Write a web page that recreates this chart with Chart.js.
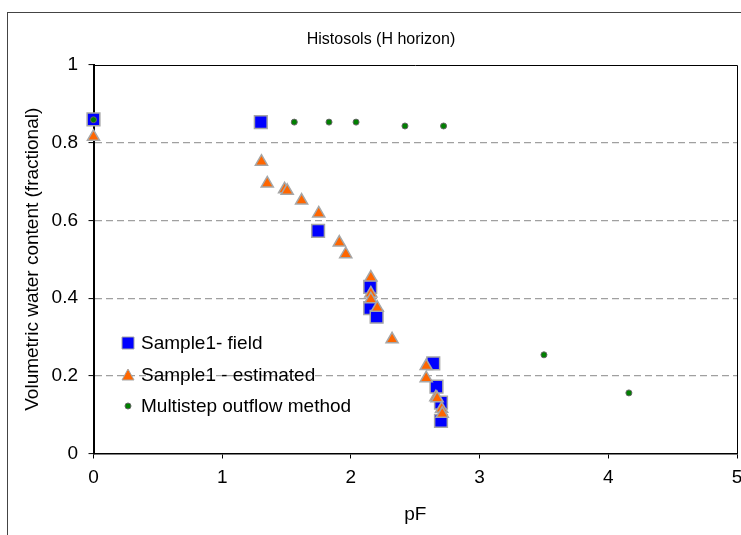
<!DOCTYPE html>
<html>
<head>
<meta charset="utf-8">
<script src="https://cdn.jsdelivr.net/npm/chart.js@4/dist/chart.umd.min.js"></script>
<style>
  html, body { margin: 0; padding: 0; background: #fff; }
  #wrap { width: 741px; height: 535px; }
</style>
</head>
<body>
<div id="wrap"><canvas id="myChart" width="741" height="535"></canvas></div>
<script>
// pF / water content pairs
const fieldPF = [0, 1.30, 1.745, 2.15, 2.15, 2.20, 2.64, 2.665, 2.70, 2.70];
const fieldTheta = [0.86, 0.853, 0.573, 0.429, 0.374, 0.352, 0.232, 0.172, 0.131, 0.084];

const estPF = [0, 1.305, 1.35, 1.485, 1.505, 1.617, 1.75, 1.91, 1.96, 2.155, 2.155, 2.155, 2.205, 2.32, 2.585, 2.585, 2.66, 2.67, 2.705, 2.71];
const estTheta = [0.815, 0.751, 0.695, 0.680, 0.676, 0.651, 0.618, 0.543, 0.513, 0.453, 0.412, 0.397, 0.375, 0.294, 0.225, 0.194, 0.145, 0.142, 0.115, 0.102];

const msoPF = [0, 1.56, 1.83, 2.04, 2.42, 2.72, 3.50, 4.16];
const msoTheta = [0.859, 0.853, 0.853, 0.853, 0.843, 0.843, 0.254, 0.156];

const seriesNames = ["Sample1- field", "Sample1 - estimated", "Multistep outflow method"];
const chartTitle = "Histosols (H horizon)";
const xTitle = "pF";
const yTitle = "Volumetric water content (fractional)";

function toPoints(xs, ys) {
  return xs.map((x, i) => ({ x: x, y: ys[i] }));
}

const FONT = "'Liberation Sans', Arial, sans-serif";

// frame, outer box, title and the legend inside the plot
const decorations = {
  id: 'decorations',
  beforeDraw(chart) {
    const ctx = chart.ctx;
    ctx.save();
    ctx.fillStyle = '#fff';
    ctx.fillRect(0, 0, chart.width, chart.height);
    ctx.strokeStyle = '#444';
    ctx.lineWidth = 1;
    ctx.strokeRect(7.5, 12.5, 800, 600);
    ctx.fillStyle = '#000';
    ctx.font = '16px ' + FONT;
    ctx.textAlign = 'center';
    ctx.textBaseline = 'middle';
    ctx.fillText(chartTitle, 381, 40);
    ctx.restore();
  },
  beforeDatasetsDraw(chart) {
    const { ctx, chartArea: a } = chart;
    ctx.save();
    ctx.strokeStyle = '#000';
    ctx.lineWidth = 1;
    ctx.beginPath();
    ctx.moveTo(a.left, a.top + 0.5);
    ctx.lineTo(a.right + 0.5, a.top + 0.5);
    ctx.lineTo(a.right + 0.5, a.bottom);
    ctx.stroke();
    ctx.restore();
  },
  afterDraw(chart) {
    const ctx = chart.ctx;
    const rows = [343, 375, 406];
    ctx.save();
    chart.data.datasets.forEach((ds, i) => {
      const y = rows[i];
      const x = 128;
      ctx.fillStyle = ds.backgroundColor;
      ctx.strokeStyle = ds.borderColor;
      ctx.lineWidth = 1;
      ctx.beginPath();
      if (ds.pointStyle === 'rect') {
        ctx.rect(x - 6, y - 6, 12, 12);
      } else if (ds.pointStyle === 'triangle') {
        ctx.moveTo(x, y - 6);
        ctx.lineTo(x + 6, y + 5);
        ctx.lineTo(x - 6, y + 5);
        ctx.closePath();
      } else {
        ctx.arc(x, y, 3, 0, Math.PI * 2);
      }
      ctx.fill();
      ctx.stroke();
      ctx.fillStyle = '#000';
      ctx.font = '19px ' + FONT;
      ctx.textAlign = 'left';
      ctx.textBaseline = 'middle';
      ctx.fillText(ds.label, 141, y + 1);
    });
    ctx.restore();
  }
};

function createChart() {
  const ctx = document.getElementById('myChart').getContext('2d');
  return new Chart(ctx, {
    type: 'scatter',
    data: {
      datasets: [
        {
          label: seriesNames[0],
          data: toPoints(fieldPF, fieldTheta),
          pointStyle: 'rect',
          pointRadius: 9,
          backgroundColor: '#0000ff',
          borderColor: '#a6a6a6',
          borderWidth: 1.5,
          order: 3,
          clip: false
        },
        {
          label: seriesNames[1],
          data: toPoints(estPF, estTheta),
          pointStyle: 'triangle',
          pointRadius: 7,
          backgroundColor: '#ff6600',
          borderColor: '#a6a6a6',
          borderWidth: 1.5,
          order: 2,
          clip: false
        },
        {
          label: seriesNames[2],
          data: toPoints(msoPF, msoTheta),
          pointStyle: 'circle',
          pointRadius: 3,
          backgroundColor: '#008000',
          borderColor: '#666666',
          borderWidth: 1,
          order: 1,
          clip: false
        }
      ]
    },
    options: {
      responsive: false,
      animation: false,
      layout: { autoPadding: false, padding: { top: 65, right: 4, left: 0, bottom: 0 } },
      plugins: {
        legend: { display: false },
        tooltip: { enabled: false },
        title: { display: false }
      },
      scales: {
        x: {
          type: 'linear',
          min: 0,
          max: 5,
          afterFit(scale) {
            scale.height = 81.5;
            scale.paddingRight = 0;
            scale.paddingLeft = 0;
          },
          ticks: {
            stepSize: 1,
            color: '#000',
            padding: 8,
            font: { family: FONT, size: 19 }
          },
          grid: {
            drawOnChartArea: false,
            drawTicks: true,
            tickLength: 5,
            tickColor: '#000',
            tickWidth: 1
          },
          border: { color: '#000', width: 1.5 },
          title: {
            display: true,
            text: xTitle,
            color: '#000',
            font: { family: FONT, size: 19 },
            padding: { top: 0, bottom: 8.6 }
          }
        },
        y: {
          type: 'linear',
          min: 0,
          max: 1,
          afterFit(scale) { scale.width = 93.5; },
          ticks: {
            stepSize: 0.2,
            color: '#000',
            padding: 10.5,
            font: { family: FONT, size: 19 },
            callback: (v) => String(+v.toFixed(1))
          },
          grid: {
            color: (c) => (c.tick && c.tick.value > 0.01 && c.tick.value < 0.99) ? '#a0a0a0' : 'rgba(0,0,0,0)',
            lineWidth: 1.2,
            drawTicks: true,
            tickLength: 5,
            tickColor: '#000',
            tickWidth: 1,
            tickBorderDash: []
          },
          border: { color: '#000', width: 2, dash: [7, 4] },
          title: {
            display: true,
            text: yTitle,
            color: '#000',
            font: { family: FONT, size: 19 },
            padding: { top: 21.6, bottom: 0 }
          }
        }
      }
    },
    plugins: [decorations]
  });
}

createChart();
</script>
</body>
</html>
